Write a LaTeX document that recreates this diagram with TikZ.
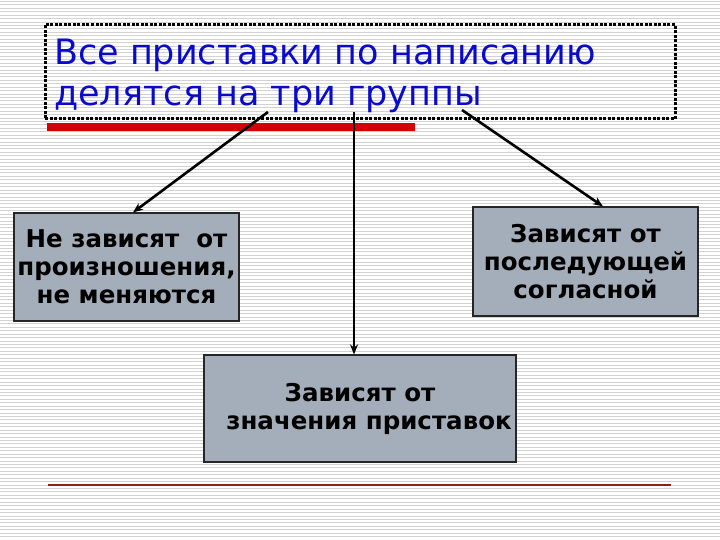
\documentclass[tikz,border=0pt]{standalone}
\usepackage{fontspec}
\setmainfont{DejaVu Sans}
\usetikzlibrary{arrows.meta}
\definecolor{boxfill}{RGB}{164,174,186}
\definecolor{titleblue}{RGB}{10,10,205}
\definecolor{barred}{RGB}{215,0,0}
\definecolor{linered}{RGB}{150,25,25}
\definecolor{stripegray}{RGB}{210,210,210}
\tikzset{
  stripe/.style={draw=stripegray, line width=1pt},
  titlebox/.style={draw=black, line width=3pt, dash pattern=on 3pt off 1.5pt, minimum width=630pt, minimum height=94pt, inner sep=0pt},
  titletext/.style={text=titleblue, font=\fontsize{35}{41}\selectfont, anchor=base west, inner sep=0pt},
  greybox/.style={draw=black!85, line width=1.2pt, fill=boxfill, inner sep=0pt, align=center, font=\fontsize{24.5}{28}\selectfont\bfseries, text=black},
  arr/.style={draw=black, line width=2.6pt, -{Stealth[length=10pt,width=8pt]}}
}
\begin{document}
\begin{tikzpicture}[x=1pt,y=-1pt]
\useasboundingbox (0,0) rectangle (720,540);
\fill[white] (0,0) rectangle (720,540);
\foreach \i in {0,...,157} \draw[stripe] (0,\i*3.43+1.5) -- (720,\i*3.43+1.5);
% title
\node[titlebox] (title) at (360,72) {};
\node[titletext] (t1) at (54,65) {Все приставки по написанию};
\node[titletext] (t2) at (54,106) {делятся на три группы};
% red bar
\fill[barred] (47,123) rectangle (415,131);
% boxes
\node[greybox, minimum width=225pt, minimum height=108pt] (lb) at (126.5,267) {Не зависят\ \ от\\произношения,\\не меняются};
\node[greybox, minimum width=225pt, minimum height=109pt] (rb) at (585.5,261.5) {Зависят от\\последующей\\согласной};
\node[greybox, minimum width=312pt, minimum height=107pt] (bb) at (360,408.5) {Зависят от\\\hspace*{18pt}значения приставок};
% arrows
\coordinate (a1) at (268,112);
\coordinate (a2) at (354,112);
\coordinate (a3) at (462,110);
\draw[arr] (a1) -- ([xshift=6.5pt]lb.north);
\draw[arr] (a2) -- ([xshift=-6pt]bb.north);
\draw[arr] (a3) -- ([xshift=17.5pt]rb.north);
% bottom line
\coordinate (l1) at (48,485);
\coordinate (l2) at (671,485);
\draw[linered, line width=1.3pt] (l1) -- (l2);
\end{tikzpicture}
\end{document}
